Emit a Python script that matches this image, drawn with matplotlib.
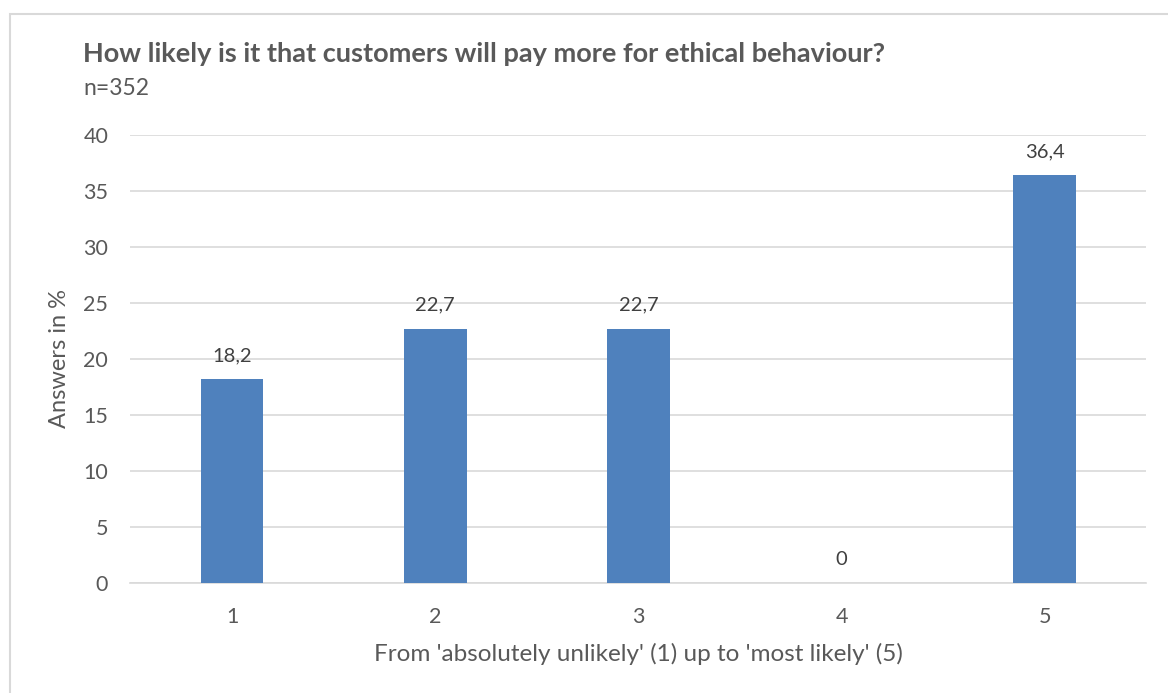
import numpy as np
import matplotlib.pyplot as plt
from matplotlib.patches import Rectangle

plt.rcParams['font.family'] = ['Lato', 'DejaVu Sans']

categories = ['1', '2', '3', '4', '5']
answers = [18.2, 22.7, 22.7, 0, 36.4]
labels = ['18,2', '22,7', '22,7', '0', '36,4']

txt = '#595959'
grid = '#d9d9d9'
W, H = 1168, 693

fig = plt.figure(figsize=(W / 100, H / 100), dpi=100)
ax = fig.add_axes([130.4 / W, 1 - 583 / H, 1016 / W, 448 / H])

x = np.arange(len(categories))
ax.bar(x, answers, width=0.31, color='#4f81bd', zorder=3)
for xi, v, lab in zip(x, answers, labels):
    ax.annotate(lab, (xi, v), xytext=(0, 13), textcoords='offset points',
                ha='center', va='baseline', fontsize=14.5, color='#404040')

ax.set_xlim(-0.5, len(categories) - 0.5)
ax.set_ylim(0, 40)
ax.set_yticks(np.arange(0, 41, 5))
ax.set_xticks(x)
ax.set_xticklabels(categories)
ax.yaxis.grid(True, color=grid, linewidth=1.2, zorder=0)
ax.tick_params(axis='both', length=0, labelsize=15.5, labelcolor=txt)
ax.tick_params(axis='y', pad=16)
ax.tick_params(axis='x', pad=17)
for s in ['top', 'right', 'left']:
    ax.spines[s].set_visible(False)
ax.spines['bottom'].set_color(grid)
ax.spines['bottom'].set_linewidth(1.2)

ax.set_ylabel('Answers in %', fontsize=17, color=txt, va='center', ha='center')
ax.yaxis.set_label_coords((60 - 130.4) / 1016, 0.5)
ax.set_xlabel("From 'absolutely unlikely' (1) up to 'most likely' (5)", fontsize=17.5, color=txt, va='baseline')
ax.xaxis.set_label_coords(0.5, (583 - 661) / 448)

fig.text(83 / W, 1 - 62 / H, 'How likely is it that customers will pay more for ethical behaviour?',
         fontsize=19.5, fontweight='bold', color=txt, va='baseline', ha='left')
fig.text(83 / W, 1 - 95 / H, 'n=352', fontsize=16.5, color=txt, va='baseline', ha='left')

# chart frame
fig.patches.append(Rectangle((9.5 / W, -0.05), 1.2, 1 - 14 / H + 0.05, transform=fig.transFigure,
                             fill=False, edgecolor='#d9d9d9', linewidth=1.5))

fig.savefig('out.png', dpi=100)
